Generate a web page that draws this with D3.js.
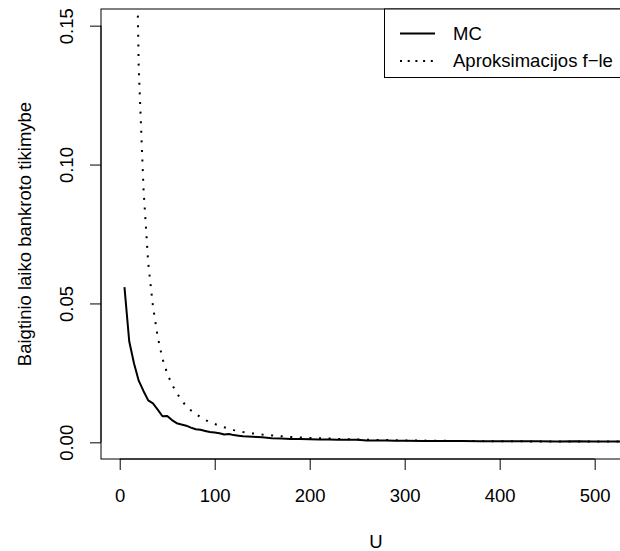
<!DOCTYPE html>
<html>
<head>
<meta charset="utf-8">
<script src="https://cdn.jsdelivr.net/npm/d3@7"></script>
<style>
  body { margin: 0; background: #fff; }
  svg { display: block; font-family: "Liberation Sans", Arial, sans-serif; }
</style>
</head>
<body>
<script>
// MC rezultatai
let mcU = [5, 10, 15, 20, 25, 30, 35, 40, 45, 50, 55, 60, 65, 70, 75, 80, 85, 90, 95, 100,
    105, 110, 115, 120, 125, 130, 135, 140, 145, 150, 160, 170, 180, 190, 200, 210, 220, 230,
    240, 250, 260, 270, 280, 290, 300, 320, 340, 360, 380, 400, 420, 440, 460, 480, 500, 520, 540, 560];
let mcP = [0.0559, 0.0364, 0.0285, 0.0222, 0.0185, 0.0151, 0.0140, 0.0118, 0.0094, 0.0095,
    0.0080, 0.0069, 0.0064, 0.0060, 0.0053, 0.0047, 0.0045, 0.0041, 0.0037, 0.0035,
    0.0033, 0.0028, 0.0030, 0.0026, 0.0024, 0.0022, 0.0021, 0.0020, 0.0019, 0.0018,
    0.0015, 0.0014, 0.0012, 0.0012, 0.0011, 0.0010, 0.0010, 0.0009, 0.0009, 0.0009,
    0.0007, 0.0007, 0.0007, 0.0006, 0.0006, 0.0005, 0.0005, 0.0005, 0.0004, 0.0004,
    0.0004, 0.0004, 0.0003, 0.0004, 0.0003, 0.0003, 0.0003, 0.0003];

// aproksimacijos funkcija
let apU = [15, 20, 25, 30, 35, 40, 45, 50, 55, 60, 65, 70, 75, 80, 85, 90, 95, 100,
    110, 120, 130, 140, 150, 160, 170, 180, 200, 225, 250, 300, 350, 400, 450, 500, 560];
let apP = [0.24, 0.135, 0.0915, 0.0645, 0.049, 0.0379, 0.0301, 0.0248, 0.0208, 0.0178,
    0.0151, 0.0131, 0.0115, 0.0102, 0.0091, 0.0081, 0.0072, 0.0066,
    0.0054, 0.0044, 0.0037, 0.0032, 0.0028, 0.0025, 0.0022, 0.0019, 0.0016, 0.0013,
    0.0010, 0.0007, 0.0005, 0.0004, 0.0003, 0.0003, 0.0002];

let xTicks = [0, 100, 200, 300, 400, 500];
let yTicks = [0, 0.05, 0.10, 0.15];
let legendLabels = ["MC", "Aproksimacijos f\u2212le"];

let largeur = 620, hauteur = 551;
let zone = { left: 101, top: 9, right: 651, bottom: 459 };
let police = 18.5;

let svg = d3.select("body").append("svg")
    .attr("width", largeur)
    .attr("height", hauteur);

let x = d3.scaleLinear().domain([-19.7, 559.3]).range([zone.left, zone.right]);
let y = d3.scaleLinear().domain([-0.006, 0.156]).range([zone.bottom, zone.top]);

svg.append("clipPath").attr("id", "clip")
    .append("rect")
    .attr("x", zone.left).attr("y", zone.top)
    .attr("width", zone.right - zone.left).attr("height", zone.bottom - zone.top);

// axes
let axeX = d3.axisBottom(x).tickValues(xTicks).tickSize(11).tickSizeOuter(0).tickFormat(d3.format("d"));
let gx = svg.append("g")
    .attr("transform", "translate(0," + zone.bottom + ")")
    .call(axeX);
gx.select(".domain").attr("d", "M" + x(0) + ",0H" + x(500)).attr("stroke", "#000");
gx.selectAll(".tick line").attr("stroke", "#000");
gx.selectAll("text")
    .attr("font-size", police)
    .attr("font-family", "Liberation Sans, Arial, sans-serif")
    .attr("fill", "#000")
    .attr("y", 43.3)
    .attr("dy", null);

let axeY = d3.axisLeft(y).tickValues(yTicks).tickSize(11).tickSizeOuter(0).tickFormat(d3.format(".2f"));
let gy = svg.append("g")
    .attr("transform", "translate(" + zone.left + ",0)")
    .call(axeY);
gy.select(".domain").attr("d", "M0," + y(0) + "V" + y(0.15)).attr("stroke", "#000");
gy.selectAll(".tick line").attr("stroke", "#000");
gy.selectAll(".tick text")
    .attr("font-size", police)
    .attr("font-family", "Liberation Sans, Arial, sans-serif")
    .attr("fill", "#000")
    .attr("x", 0).attr("y", 0).attr("dy", null)
    .attr("text-anchor", "middle")
    .attr("transform", "translate(-27.7,0) rotate(-90)");

// boîte
svg.append("rect")
    .attr("x", zone.left).attr("y", zone.top)
    .attr("width", zone.right - zone.left).attr("height", zone.bottom - zone.top)
    .attr("fill", "none").attr("stroke", "#000").attr("stroke-width", 1);

let ligne = d3.line().x(d => x(d[0])).y(d => y(d[1]));

let plot = svg.append("g").attr("clip-path", "url(#clip)");

plot.append("path")
    .datum(apU.map((u, i) => [u, apP[i]]))
    .attr("d", ligne)
    .attr("fill", "none")
    .attr("stroke", "#000")
    .attr("stroke-width", 2)
    .attr("stroke-dasharray", "2,7.6");

plot.append("path")
    .datum(mcU.map((u, i) => [u, mcP[i]]))
    .attr("d", ligne)
    .attr("fill", "none")
    .attr("stroke", "#000")
    .attr("stroke-width", 2)
    .attr("stroke-linejoin", "round");

// titres
svg.append("text")
    .attr("x", (zone.left + zone.right) / 2)
    .attr("y", 547.5)
    .attr("text-anchor", "middle")
    .attr("font-size", police)
    .text("U");

svg.append("text")
    .attr("transform", "translate(31," + (zone.top + zone.bottom) / 2 + ") rotate(-90)")
    .attr("text-anchor", "middle")
    .attr("font-size", police)
    .text("Baigtinio laiko bankroto tikimybe");

// légende
let leg = svg.append("g");
leg.append("rect")
    .attr("x", 384.5).attr("y", zone.top)
    .attr("width", 300).attr("height", 68.5)
    .attr("fill", "#fff").attr("stroke", "#000");

let legY = [33.5, 61];
legendLabels.forEach(function(lab, i) {
    leg.append("line")
        .attr("x1", 400).attr("x2", 435)
        .attr("y1", legY[i]).attr("y2", legY[i])
        .attr("stroke", "#000").attr("stroke-width", 2)
        .attr("stroke-dasharray", i === 1 ? "2,5.7" : null);
    leg.append("text")
        .attr("x", 453).attr("y", legY[i])
        .attr("dy", "0.35em")
        .attr("font-size", police)
        .text(lab);
});
</script>
</body>
</html>
